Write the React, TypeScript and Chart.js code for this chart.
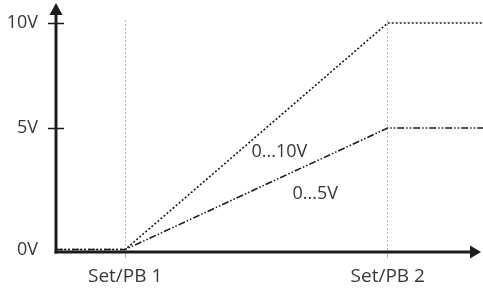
import React, { useEffect, useRef } from "react";
import { Chart, registerables, LinearScale } from "chart.js";

// ---- data ----
const xPoints = [0, 16.2, 77.7, 100];
const series10V = [0, 0, 10, 10];
const series5V = [0, 0, 5, 5];
const seriesNames = ["0...10V", "0...5V"];
const xTickValues = [16.2, 77.7];
const xTickLabels = ["Set/PB 1", "Set/PB 2"];
const yTickValues = [0, 5, 10];
const yTickLabels = ["0V", "5V", "10V"];
const annotationX = [52.3, 60.7];
const annotationY = [4.0, 2.3];

class BrokenLinearScale extends (LinearScale as any) {
  static id = "brokenLinear";
  static defaults = {};
  getPixelForValue(value: any) {
    const v = Number(value);
    const b = (this as any).options.breakValue;
    const f = (this as any).options.breakFraction;
    const min = (this as any).min;
    const max = (this as any).max;
    let d;
    if (v <= b) d = ((v - min) / (b - min)) * f;
    else d = f + ((v - b) / (max - b)) * (1 - f);
    return (this as any).getPixelForDecimal(d);
  }
  getValueForPixel(pixel: number) {
    const d = (this as any).getDecimalForPixel(pixel);
    const b = (this as any).options.breakValue;
    const f = (this as any).options.breakFraction;
    const min = (this as any).min;
    const max = (this as any).max;
    if (d <= f) return min + (d / f) * (b - min);
    return b + ((d - f) / (1 - f)) * (max - b);
  }
}

Chart.register(...registerables, BrokenLinearScale as any);

const INK = "#1c1c1c";
const TEXT = "#383838";
const FONT = "'Open Sans', 'DejaVu Sans', sans-serif";

const axesPlugin = {
  id: "axesArrows",
  afterDatasetsDraw(chart: any) {
    const { ctx, chartArea } = chart;
    const xs = chart.scales.x;
    const ys = chart.scales.y;
    const x0 = chartArea.left;
    const y0 = chartArea.bottom;
    ctx.save();
    // annotations
    ctx.fillStyle = TEXT;
    ctx.font = `18px ${FONT}`;
    ctx.textAlign = "center";
    ctx.textBaseline = "middle";
    seriesNames.forEach((name, i) => {
      ctx.fillText(name, xs.getPixelForValue(annotationX[i]), ys.getPixelForValue(annotationY[i]));
    });
    // axes
    ctx.strokeStyle = INK;
    ctx.fillStyle = INK;
    ctx.lineWidth = 3;
    ctx.lineCap = "butt";
    ctx.beginPath();
    ctx.moveTo(x0, y0 + 1.5);
    ctx.lineTo(x0, 14);
    ctx.stroke();
    ctx.beginPath();
    ctx.moveTo(x0 - 1.5, y0);
    ctx.lineTo(472, y0);
    ctx.stroke();
    // arrow heads
    ctx.beginPath();
    ctx.moveTo(x0, 3);
    ctx.lineTo(x0 - 6.5, 15);
    ctx.lineTo(x0 + 6.5, 15);
    ctx.closePath();
    ctx.fill();
    ctx.beginPath();
    ctx.moveTo(481, y0);
    ctx.lineTo(470, y0 - 6.5);
    ctx.lineTo(470, y0 + 6.5);
    ctx.closePath();
    ctx.fill();
    // y tick marks crossing the axis
    ctx.lineWidth = 1.5;
    yTickValues.forEach((v) => {
      if (v === 0) return;
      const py = Math.round(ys.getPixelForValue(v)) + 0.5;
      ctx.beginPath();
      ctx.moveTo(x0 - 8, py);
      ctx.lineTo(x0 + 8, py);
      ctx.stroke();
    });
    ctx.restore();
  },
};

export default function App() {
  const ref = useRef<HTMLCanvasElement>(null);
  useEffect(() => {
    if (!ref.current) return;
    const chart = new Chart(ref.current, {
      type: "line",
      data: {
        datasets: [
          {
            label: seriesNames[0],
            data: xPoints.map((x, i) => ({ x, y: series10V[i] })),
            borderColor: INK,
            borderWidth: 1.6,
            borderDash: [2, 2],
            pointRadius: 0,
            fill: false,
            tension: 0,
          },
          {
            label: seriesNames[1],
            data: xPoints.map((x, i) => ({ x, y: series5V[i] })),
            borderColor: INK,
            borderWidth: 1.6,
            borderDash: [7, 2, 1.5, 2, 1.5, 2],
            pointRadius: 0,
            fill: false,
            tension: 0,
          },
        ],
      },
      options: {
        animation: false,
        responsive: false,
        events: [],
        layout: { padding: { top: 20, left: 0, right: 0, bottom: 0 } },
        plugins: { legend: { display: false }, tooltip: { enabled: false } },
        scales: {
          x: {
            type: "linear",
            min: 0,
            max: 100,
            afterBuildTicks: (s: any) => {
              s.ticks = xTickValues.map((value) => ({ value }));
            },
            afterFit: (s: any) => {
              s.height = 38;
              s.paddingLeft = 0;
              s.paddingRight = 0;
              s.paddingTop = 0;
              s.paddingBottom = 0;
            },
            ticks: {
              callback: (_v: any, i: number) => xTickLabels[i],
              color: TEXT,
              font: { family: FONT, size: 19 },
              padding: 7,
              maxRotation: 0,
              autoSkip: false,
            },
            grid: {
              color: "#b5b5b5",
              lineWidth: 1,
              drawTicks: true,
              tickLength: 6,
            },
            border: { display: false, dash: [2, 2] },
          },
          y: {
            type: "brokenLinear" as any,
            min: -0.1,
            max: 10.14,
            breakValue: 5,
            breakFraction: 124 / 232,
            afterBuildTicks: (s: any) => {
              s.ticks = yTickValues.map((value) => ({ value }));
            },
            afterFit: (s: any) => {
              s.width = 56;
              s.paddingLeft = 0;
              s.paddingRight = 0;
              s.paddingTop = 0;
              s.paddingBottom = 0;
            },
            ticks: {
              callback: (_v: any, i: number) => yTickLabels[i],
              color: TEXT,
              font: { family: FONT, size: 18 },
              padding: 18,
              autoSkip: false,
            },
            grid: { display: false, drawTicks: false },
            border: { display: false },
          } as any,
        },
      },
      plugins: [axesPlugin],
    } as any);
    return () => chart.destroy();
  }, []);
  return (
    <div style={{ position: "fixed", left: 0, top: 0, width: 483, height: 290, background: "#fff" }}>
      <canvas ref={ref} width={483} height={290} style={{ display: "block" }} />
    </div>
  );
}
